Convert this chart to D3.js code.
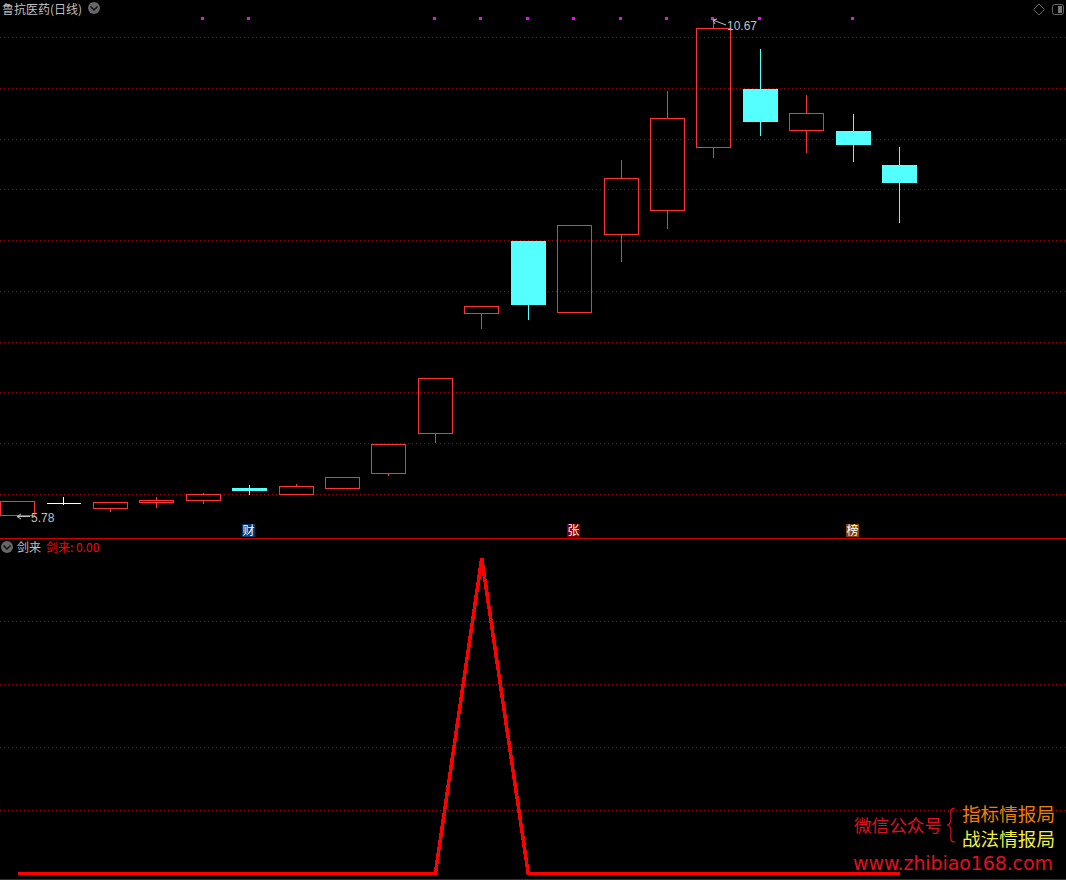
<!DOCTYPE html>
<html>
<meta charset="utf-8">
<head>
  <title>鲁抗医药(日线)</title>
</head>
<style>
html, body { margin: 0; padding: 0; background: #000; }
svg { display: block; background: #000; }
text { font-family: "Noto Sans CJK SC", sans-serif; opacity: 0.999; }
.num { font-family: "Liberation Sans", sans-serif; }
.grid line { stroke: #a00000; stroke-dasharray: 1,3; shape-rendering: crispEdges; }
.wick, .body { shape-rendering: crispEdges; }
</style>
<body>
<script src="https://cdnjs.cloudflare.com/ajax/libs/d3/7.8.5/d3.min.js"></script>
<script>
var width = 1066, height = 880;

var bars = d3.range(0, 20);
var opens  = [5.79,5.91,5.86,5.92,5.94,6.06,6.00,6.06,6.21,6.60,7.78,8.50,7.79,8.56,8.80,9.42,9.99,9.58,9.58,9.24];
var closes = [5.93,5.91,5.92,5.94,6.00,6.03,6.08,6.17,6.49,7.14,7.85,7.87,8.65,9.11,9.70,10.59,9.67,9.75,9.44,9.07];
var highs  = [5.93,5.98,5.92,5.98,6.01,6.09,6.10,6.17,6.49,7.14,7.85,8.50,8.65,9.29,9.97,10.67,10.39,9.93,9.75,9.42];
var lows   = [5.78,5.90,5.83,5.87,5.91,6.00,6.00,6.06,6.18,6.51,7.63,7.72,7.79,8.29,8.61,9.31,9.53,9.36,9.27,8.67];

var priceGrid = [6,6.5,7,7.5,8,8.5,9,9.5,10,10.5];
var signalGrid = [20,40,60,80];
var signalValues = [0,0,0,0,0,0,0,0,0,0,100,0,0,0,0,0,0,0,0,0];

var flagBars = [4,5,9,10,11,12,13,14,15,16,18];
var badgeBars = [5,12,18];
var badgeLabels = ["财","张","榜"];
var badgeColors = ["#003a75","#800000","#804000"];

var x = d3.scalePoint().domain(bars).range([17.55, 899.55]);
var y = d3.scaleLinear().domain([6, 10.5]).range([494.5, 37.5]);
var ySignal = d3.scaleLinear().domain([0, 100]).range([873.3, 558.3]);

function px(v) { return Math.floor(v) + 0.5; }

var svg = d3.select("body").append("svg")
    .attr("width", width)
    .attr("height", height);

// grid lines, snapped to whole rows
function grid(scale, values) {
  svg.append("g").attr("class", "grid")
      .call(d3.axisRight(scale).tickValues(values).tickSize(width).tickFormat(""))
      .call(function(g) {
        g.select(".domain").remove();
        g.selectAll(".tick").attr("transform", function(d) { return "translate(0," + px(scale(d)) + ")"; });
      });
}
grid(y, priceGrid);
grid(ySignal, signalGrid);

// panel borders
svg.append("line").attr("x1", 0).attr("x2", width).attr("y1", 538.5).attr("y2", 538.5)
    .attr("stroke", "#c80000").attr("shape-rendering", "crispEdges");
svg.append("line").attr("x1", 0).attr("x2", width).attr("y1", 879.5).attr("y2", 879.5)
    .attr("stroke", "#a80000").attr("shape-rendering", "crispEdges");

function barColor(i) {
  if (closes[i] > opens[i]) return "#ff3232";
  if (closes[i] < opens[i]) return "#54ffff";
  return "#ffffff";
}

function isDown(i) { return closes[i] < opens[i]; }

// candles
var candle = svg.append("g").selectAll("g").data(bars).enter().append("g");

candle.append("line").attr("class", "wick")
    .attr("x1", function(i) { return px(x(i)); })
    .attr("x2", function(i) { return px(x(i)); })
    .attr("y1", function(i) { return y(highs[i]); })
    .attr("y2", function(i) { return y(Math.max(opens[i], closes[i])); })
    .attr("stroke", barColor);

candle.append("line").attr("class", "wick")
    .attr("x1", function(i) { return px(x(i)); })
    .attr("x2", function(i) { return px(x(i)); })
    .attr("y1", function(i) { return y(Math.min(opens[i], closes[i])); })
    .attr("y2", function(i) { return y(lows[i]); })
    .attr("stroke", barColor);

// path and not rect: the doji has no height and a rect would vanish
candle.append("path").attr("class", "body")
    .attr("d", function(i) {
      var top = y(Math.max(opens[i], closes[i])), bottom = y(Math.min(opens[i], closes[i]));
      var p = d3.path();
      if (isDown(i)) {
        p.rect(Math.floor(x(i)) - 17, Math.round(top), 35, Math.round(bottom) - Math.round(top));
      } else {
        var l = px(x(i)) - 17, r = l + 34;
        p.moveTo(l, px(top));
        p.lineTo(r, px(top));
        p.lineTo(r, px(bottom));
        p.lineTo(l, px(bottom));
        p.closePath();
      }
      return p.toString();
    })
    .attr("fill", function(i) { return isDown(i) ? "#54ffff" : "none"; })
    .attr("stroke", function(i) { return isDown(i) ? "none" : barColor(i); });

// signal flags along the top
svg.append("g").selectAll("rect").data(flagBars).enter().append("rect")
    .attr("x", function(i) { return Math.floor(x(i)) - 2; })
    .attr("y", 17)
    .attr("width", 3)
    .attr("height", 3)
    .attr("fill", "#ff00ff");

// badges
var badge = svg.append("g").selectAll("g").data(badgeBars).enter().append("g")
    .attr("transform", function(i) { return "translate(" + (Math.floor(x(i)) - 7) + ",524)"; });
badge.append("rect").attr("width", 13).attr("height", 13)
    .attr("fill", function(d, n) { return badgeColors[n]; });
badge.append("text").attr("x", 6.5).attr("y", 11).attr("text-anchor", "middle")
    .attr("font-size", 12).attr("fill", "#fff")
    .text(function(d, n) { return badgeLabels[n]; });

// high / low notes
var grey = "#c0c0c0";
svg.append("path")
    .attr("d", "M713 20L726 25M713 20L717 19M713 20L715 24")
    .attr("fill", "none").attr("stroke", grey);
svg.append("text").attr("class", "num").attr("x", 727).attr("y", 30)
    .attr("font-size", 12).attr("fill", grey).text(d3.format(".2f")(d3.max(highs)));
svg.append("path")
    .attr("d", "M17 516.5H30M17 516.5L21 514M17 516.5L21 519")
    .attr("fill", "none").attr("stroke", grey);
svg.append("text").attr("class", "num").attr("x", 31).attr("y", 522)
    .attr("font-size", 12).attr("fill", grey).text(d3.format(".2f")(d3.min(lows)));

// signal line
svg.append("path")
    .datum(bars)
    .attr("fill", "none")
    .attr("stroke", "#ff0000")
    .attr("stroke-width", 3.5)
    .attr("shape-rendering", "crispEdges")
    .attr("d", d3.line()
      .x(function(i) { return x(i); })
      .y(function(i) { return ySignal(signalValues[i]); }));

// header texts
svg.append("text").attr("x", 2).attr("y", 14).attr("font-size", 12).attr("fill", grey).text("鲁抗医药(日线)");
svg.append("text").attr("x", 17).attr("y", 552).attr("font-size", 12).attr("fill", grey).text("剑来");
svg.append("text").attr("x", 46).attr("y", 552).attr("font-size", 12).attr("fill", "#ff0000").text("剑来: 0.00");

// small round buttons
function chevron(cx, cy) {
  svg.append("circle").attr("cx", cx).attr("cy", cy).attr("r", 6).attr("fill", "#666");
  svg.append("path").attr("d", "M" + (cx - 3.5) + " " + (cy - 1.5) + "L" + cx + " " + (cy + 2) + "L" + (cx + 3.5) + " " + (cy - 1.5))
      .attr("fill", "none").attr("stroke", "#111").attr("stroke-width", 1.5);
}
chevron(94, 8);
chevron(7, 547);

// window buttons top right
svg.append("path").attr("d", "M1039 4L1044.5 9.5L1039 15L1033.5 9.5Z")
    .attr("fill", "none").attr("stroke", "#666");
svg.append("rect").attr("x", 1052.5).attr("y", 4.5).attr("width", 11).attr("height", 10).attr("rx", 2)
    .attr("fill", "#000").attr("stroke", "#666");
svg.append("rect").attr("x", 1058).attr("y", 6).attr("width", 4).attr("height", 7).attr("fill", "#777");

// watermark
svg.append("text").attr("x", 854).attr("y", 832).attr("font-size", 17.6).attr("fill", "#e01020").text("微信公众号");
svg.append("path").attr("d", "M955 808C949 808 951 813 951 818C951 823 950 825 947 825C950 825 951 827 951 832C951 837 949 842 955 842")
    .attr("fill", "none").attr("stroke", "#e01020").attr("stroke-width", 1.2);
svg.append("text").attr("x", 962).attr("y", 821).attr("font-size", 18.6).attr("fill", "#e88000").text("指标情报局");
svg.append("text").attr("x", 962).attr("y", 846).attr("font-size", 18.6).attr("fill", "#f0f040").text("战法情报局");
svg.append("text").attr("x", 853).attr("y", 870).attr("font-size", 19).attr("fill", "#e01020")
    .style("font-family", "'DejaVu Sans', sans-serif").attr("textLength", 200).text("www.zhibiao168.com");
</script>
</body>
</html>
